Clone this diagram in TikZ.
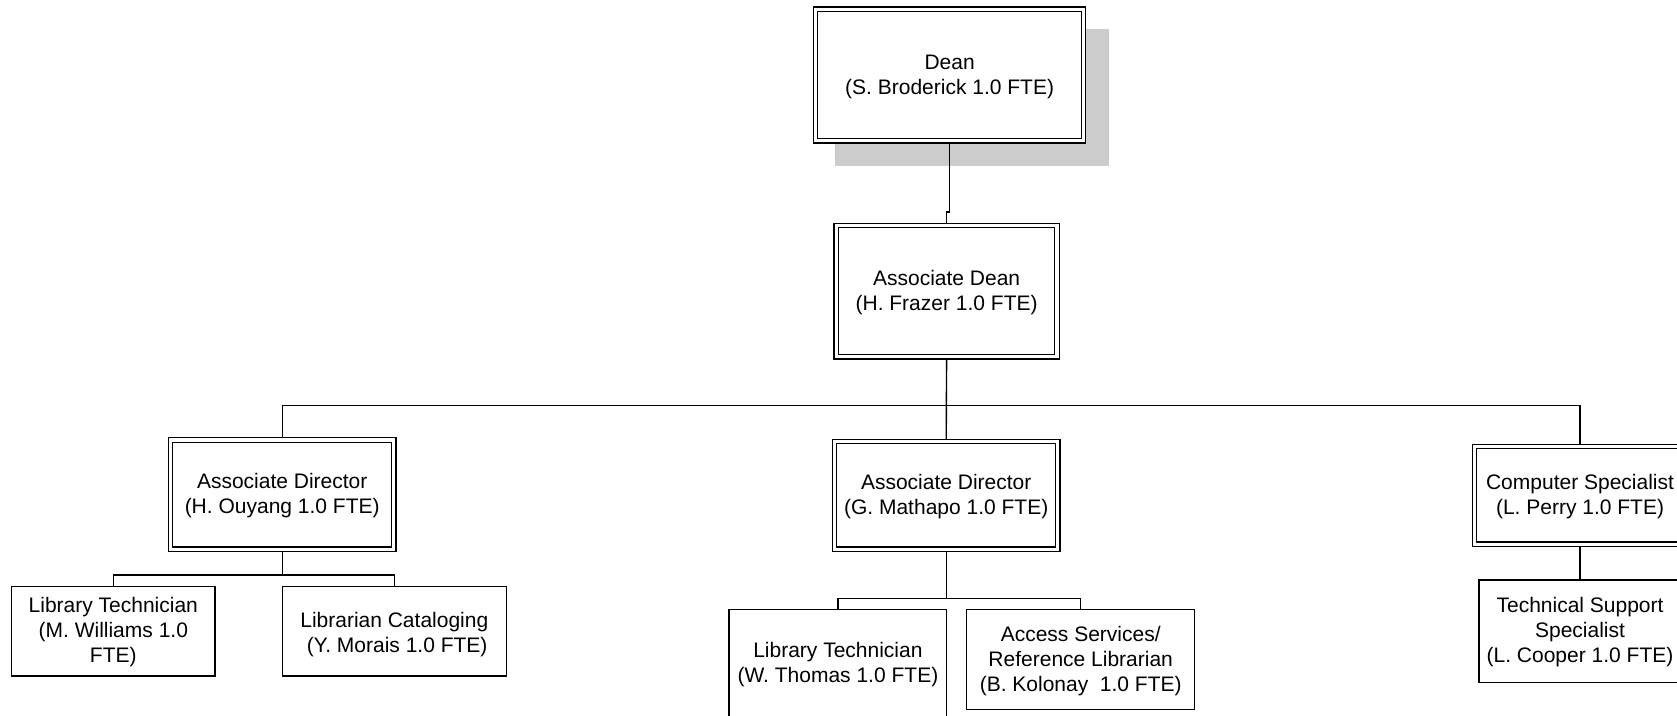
\documentclass[tikz,border=0pt]{standalone}
\usepackage{fontspec}
\setmainfont{Liberation Sans}
\usetikzlibrary{backgrounds,calc}
\newcommand{\tup}[1]{\rule{0pt}{#1}}
\tikzset{
  orgtext/.style={font=\fontsize{21}{25}\selectfont, align=center, inner sep=0pt, outer sep=0pt},
  dblbox/.style={orgtext, draw=black, line width=1.2pt, double=white, double distance=3.1pt, fill=white},
  sglbox/.style={orgtext, draw=black, line width=1.4pt, fill=white},
  link/.style={draw=black, line width=1.4pt},
  shade/.style={fill=black!20}
}
\begin{document}
\begin{tikzpicture}[x=1pt,y=-1pt]
\useasboundingbox (0,0) rectangle (1677,715);
\clip (0,0) rectangle (1677,715);

\node[dblbox, minimum width=268.2pt, minimum height=131.6pt] (dean) at (949.6,75) {\tup{18.1pt}Dean\\(S. Broderick 1.0 FTE)};
\node[dblbox, minimum width=220.8pt, minimum height=131.3pt] (adean) at (946.6,291.2) {\tup{18.1pt}Associate Dean\\(H. Frazer 1.0 FTE)};
\node[dblbox, minimum width=223.4pt, minimum height=109.2pt] (ouyang) at (282.2,494.6) {\tup{18.1pt}Associate Director\\(H. Ouyang 1.0 FTE)};
\node[dblbox, minimum width=223.4pt, minimum height=107.8pt] (mathapo) at (946.2,495.3) {\tup{16.9pt}Associate Director\\(G. Mathapo 1.0 FTE)};
\node[dblbox, minimum width=210.6pt, minimum height=97.8pt] (perry) at (1580,495.3) {\tup{16.9pt}Computer Specialist\\(L. Perry 1.0 FTE)};

\node[sglbox, minimum width=203.3pt, minimum height=89.3pt] (williams) at (113.3,631.3) {\tup{16.9pt}Library Technician\\(M. Williams 1.0\\FTE)};
\node[sglbox, minimum width=224pt, minimum height=89.3pt] (morais) at (394.3,631.3) {\tup{21.5pt}Librarian Cataloging\\\hspace*{0.28em}(Y. Morais 1.0 FTE)};
\node[sglbox, minimum width=217.7pt, minimum height=107.4pt] (thomas) at (837.9,663) {\tup{18.1pt}Library Technician\\(W. Thomas 1.0 FTE)};
\node[sglbox, minimum width=228pt, minimum height=100pt] (kolonay) at (1080.7,659.3) {\tup{19.4pt}Access Services/\\Reference Librarian\\(B. Kolonay~ 1.0 FTE)};
\node[sglbox, minimum width=202pt, minimum height=102.3pt] (cooper) at (1580,631.2) {\tup{17pt}Technical Support\\Specialist\\(L. Cooper 1.0 FTE)};

\begin{scope}[on background layer]
  \fill[shade] ($(dean.north west)+(19.5,20)$) rectangle ($(dean.south east)+(25,25)$);
  \coordinate (jog) at ($(dean.south)+(0,71)$);
  \draw[link] (dean.south) -- (jog) -| (adean.north);
  \coordinate (bus) at ($(adean.south)+(0,48.7)$);
  \draw[link] (adean.south) -- (mathapo.north);
  \draw[link] (ouyang.north) |- (bus) -| (perry.north);
  \coordinate (obus) at ($(ouyang.south)+(0,25.8)$);
  \draw[link] (ouyang.south) -- (obus);
  \draw[link] (williams.north) |- (obus) -| (morais.north);
  \coordinate (mbus) at ($(mathapo.south)+(0,49.1)$);
  \draw[link] (mathapo.south) -- (mbus);
  \draw[link] (thomas.north) |- (mbus) -| (kolonay.north);
  \draw[link] (perry.south) -- (cooper.north);
\end{scope}
\end{tikzpicture}
\end{document}
